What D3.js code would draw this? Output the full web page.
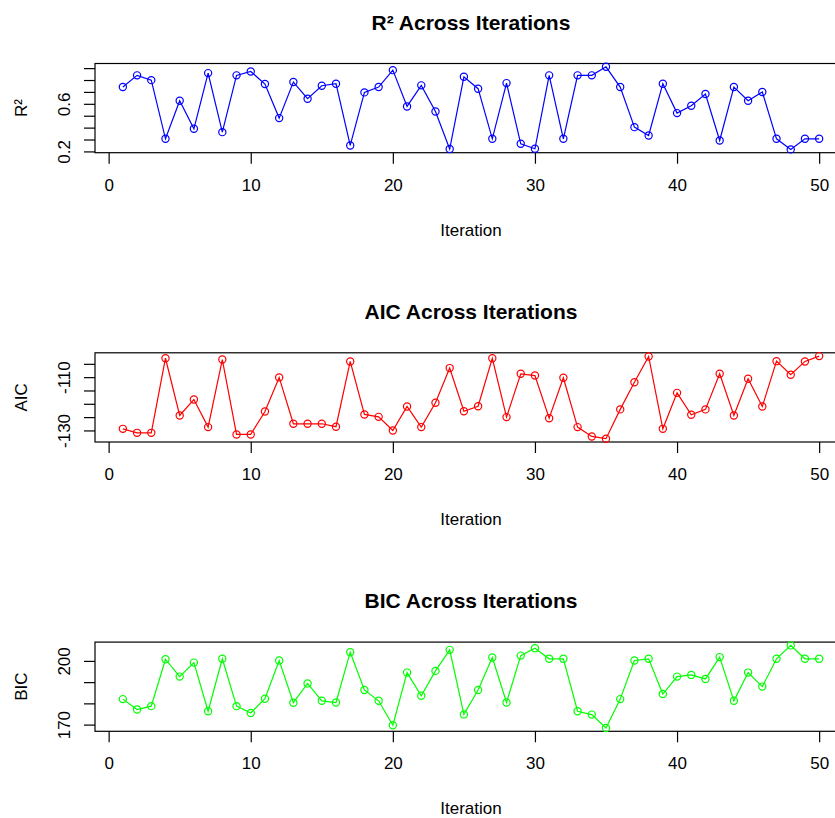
<!DOCTYPE html>
<html>
<head>
<meta charset="utf-8">
<script src="https://cdn.jsdelivr.net/npm/d3@7"></script>
<style>
  html, body { margin: 0; padding: 0; background: #fff; overflow: hidden; }
  svg { display: block; }
  text { font-family: "Liberation Sans", Arial, sans-serif; fill: #000; }
</style>
</head>
<body>
<div id="chart"></div>
<script>
// iteration index
var iterations = [1, 2, 3, 4, 5, 6, 7, 8, 9, 10, 11, 12, 13, 14, 15, 16, 17, 18, 19, 20,
  21, 22, 23, 24, 25, 26, 27, 28, 29, 30, 31, 32, 33, 34, 35, 36, 37, 38, 39, 40,
  41, 42, 43, 44, 45, 46, 47, 48, 49, 50];

var r2Values = [0.741, 0.839, 0.799, 0.306, 0.626, 0.390, 0.858, 0.362, 0.839, 0.872,
  0.766, 0.480, 0.783, 0.643, 0.752, 0.769, 0.250, 0.696, 0.741, 0.883,
  0.578, 0.755, 0.536, 0.220, 0.827, 0.727, 0.306, 0.774, 0.264, 0.222,
  0.839, 0.306, 0.839, 0.839, 0.911, 0.741, 0.404, 0.334, 0.769, 0.522,
  0.584, 0.682, 0.292, 0.741, 0.626, 0.699, 0.306, 0.217, 0.306, 0.306];

var aicValues = [-129.4, -130.9, -130.9, -102.9, -124.4, -118.4, -128.75, -103.4, -131.5, -131.5,
  -122.9, -110.1, -127.5, -127.5, -127.5, -128.6, -104.1, -124.0, -124.9, -130.0,
  -121.0, -128.75, -119.6, -106.6, -122.8, -120.9, -102.9, -125.0, -108.75, -109.4,
  -125.4, -110.25, -128.75, -132.25, -133.1, -122.1, -111.9, -102.25, -129.4, -115.9,
  -124.1, -122.1, -108.75, -124.4, -110.6, -121.0, -104.0, -109.1, -104.1, -102.1];

var bicValues = [182.0, 177.1, 178.7, 200.8, 192.6, 199.2, 176.3, 201.0, 178.7, 175.5,
  182.2, 200.2, 180.3, 189.4, 181.2, 180.4, 204.1, 186.3, 181.2, 169.7,
  194.5, 183.6, 195.3, 205.2, 174.8, 186.3, 201.6, 180.4, 202.5, 206.0,
  201.0, 201.0, 176.3, 174.7, 168.4, 182.0, 200.2, 201.0, 184.4, 192.6,
  193.4, 191.5, 201.8, 181.2, 194.5, 187.9, 201.0, 207.3, 201.0, 201.0];

// tick marks and the labels R kept after dropping overlapping ones
var xTicks = [0, 10, 20, 30, 40, 50];
var r2Ticks = [0.2, 0.3, 0.4, 0.5, 0.6, 0.7, 0.8, 0.9];
var r2Labels = ["0.2", "0.6"];
var aicTicks = [-130, -125, -120, -115, -110, -105];
var aicLabels = ["-130", "-110"];
var bicTicks = [170, 180, 190, 200];
var bicLabels = ["170", "200"];

var panels = [
  { title: "R\u00b2 Across Iterations", ylab: "R\u00b2", values: r2Values, color: "#0000ff", ticks: r2Ticks, labels: r2Labels },
  { title: "AIC Across Iterations", ylab: "AIC", values: aicValues, color: "#ff0000", ticks: aicTicks, labels: aicLabels },
  { title: "BIC Across Iterations", ylab: "BIC", values: bicValues, color: "#00ff00", ticks: bicTicks, labels: bicLabels }
];

const WIDTH = 835;
const HEIGHT = 818;
const BOX = { LEFT: 95, RIGHT: 847, TOP: 63.5, STEP: 289.3, HEIGHT: 89.2 };

// R style axis range: data range padded by 4% each side
function padded(ext) {
  var pad = (ext[1] - ext[0]) * 0.04;
  return [ext[0] - pad, ext[1] + pad];
}

var svg = d3.select("#chart")
  .append("svg")
  .attr("width", WIDTH)
  .attr("height", HEIGHT);

var x = d3.scaleLinear()
  .domain(padded(d3.extent(iterations)))
  .range([BOX.LEFT, BOX.RIGHT]);

panels.forEach(function (p, i) {
  var top = BOX.TOP + i * BOX.STEP;
  var bottom = top + BOX.HEIGHT;

  var y = d3.scaleLinear()
    .domain(padded(d3.extent(p.values)))
    .range([bottom, top]);

  var g = svg.append("g");

  // title
  g.append("text")
    .attr("x", (BOX.LEFT + BOX.RIGHT) / 2)
    .attr("y", top - 41)
    .attr("dy", "0.35em")
    .attr("text-anchor", "middle")
    .style("font-size", "21px")
    .style("font-weight", "bold")
    .text(p.title);

  // x axis
  var xAxis = g.append("g")
    .attr("transform", "translate(0," + bottom + ")")
    .call(d3.axisBottom(x).tickValues(xTicks).tickSize(11).tickSizeOuter(0).tickPadding(0));
  xAxis.select(".domain").remove();
  xAxis.selectAll("line").attr("stroke", "#000").attr("stroke-width", 1.2);
  xAxis.selectAll("text")
    .attr("y", 32)
    .attr("dy", "0.35em")
    .style("font-size", "17px")
    .style("font-family", "'Liberation Sans', Arial, sans-serif")
    .attr("fill", "#000");

  g.append("text")
    .attr("x", (BOX.LEFT + BOX.RIGHT) / 2)
    .attr("y", bottom + 77)
    .attr("dy", "0.35em")
    .attr("text-anchor", "middle")
    .style("font-size", "17px")
    .text("Iteration");

  // y axis with rotated labels (plain hyphen minus, like R)
  var yAxis = g.append("g")
    .attr("transform", "translate(" + BOX.LEFT + ",0)")
    .call(d3.axisLeft(y).tickValues(p.ticks).tickSize(11).tickSizeOuter(0)
      .tickFormat(function (d) {
        var s = String(d);
        return p.labels.indexOf(s) >= 0 ? s : "";
      }));
  yAxis.select(".domain").remove();
  yAxis.selectAll("line").attr("stroke", "#000").attr("stroke-width", 1.2);
  yAxis.selectAll("text")
    .attr("x", 0)
    .attr("dy", null)
    .attr("text-anchor", "middle")
    .attr("transform", "translate(-31,0) rotate(-90)")
    .attr("dominant-baseline", "central")
    .style("font-size", "17px")
    .style("font-family", "'Liberation Sans', Arial, sans-serif")
    .attr("fill", "#000");

  g.append("text")
    .attr("transform", "translate(21," + (top + BOX.HEIGHT / 2) + ") rotate(-90)")
    .attr("text-anchor", "middle")
    .attr("dominant-baseline", "central")
    .style("font-size", "17px")
    .text(p.ylab);

  // plot box
  g.append("rect")
    .attr("x", BOX.LEFT)
    .attr("y", top)
    .attr("width", BOX.RIGHT - BOX.LEFT)
    .attr("height", BOX.HEIGHT)
    .attr("fill", "none")
    .attr("stroke", "#000")
    .attr("stroke-width", 1.2);

  // type = "o": line plus open circles
  var line = d3.line()
    .x(function (d, j) { return x(iterations[j]); })
    .y(function (d) { return y(d); });

  g.append("path")
    .datum(p.values)
    .attr("d", line)
    .attr("fill", "none")
    .attr("stroke", p.color)
    .attr("stroke-width", 1.2);

  g.selectAll("circle")
    .data(p.values)
    .enter().append("circle")
    .attr("cx", function (d, j) { return x(iterations[j]); })
    .attr("cy", function (d) { return y(d); })
    .attr("r", 3.6)
    .attr("fill", "none")
    .attr("stroke", p.color)
    .attr("stroke-width", 1.2);
});
</script>
</body>
</html>
